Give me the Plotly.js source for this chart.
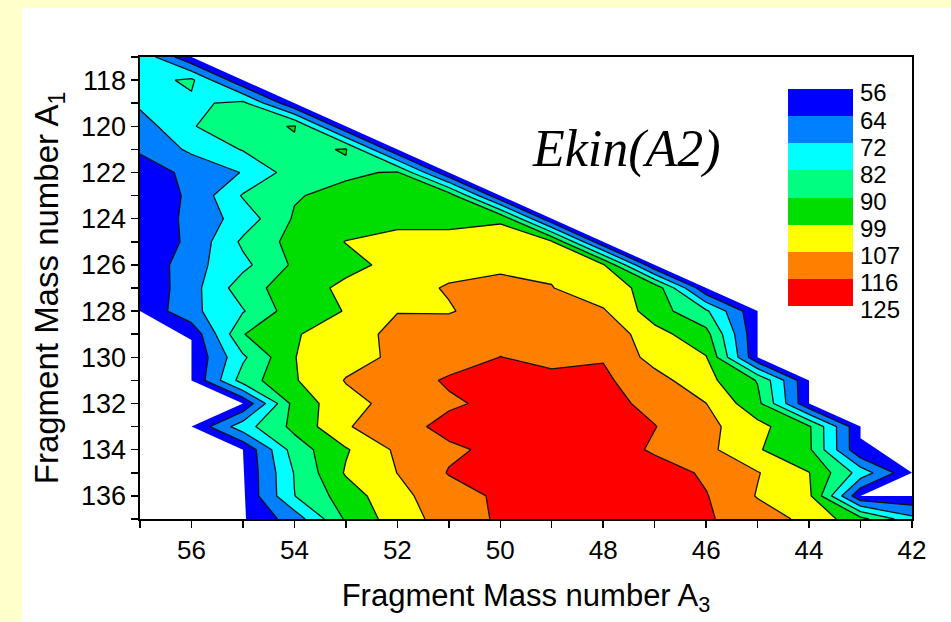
<!DOCTYPE html>
<html>
<head>
<meta charset="utf-8">
<script src="https://cdn.plot.ly/plotly-3.0.1.min.js"></script>
<style>
  html, body { margin: 0; padding: 0; background: #FFFFCC; width: 951px; height: 622px; overflow: hidden; }
  #plot { position: absolute; left: 22px; top: 8px; width: 929px; height: 614px; background: #ffffff; }
</style>
</head>
<body>
<div id="plot"></div>
<script>
// ---- data ----
// fragment mass A3 (columns, left to right as drawn) and A1 (rows, top to bottom)
const a3Values = [57,56,55,54,53,52,51,50,49,48,47,46,45,44,43,42];
const a1Values = [117,118,119,120,121,122,123,124,125,126,127,128,129,130,131,132,133,134,135,136,137];

// Ekin(A2) in MeV at each (A1, A3); cells outside the measured domain carry 56.5 and are masked
const ekinRows = [
/*117*/ [80,57,56.5,56.5,56.5,56.5,56.5,56.5,56.5,56.5,56.5,56.5,56.5,56.5,56.5,56.5],
/*118*/ [78,83.5,57,56.5,56.5,56.5,56.5,56.5,56.5,56.5,56.5,56.5,56.5,56.5,56.5,56.5],
/*119*/ [74,80,84,57,56.5,56.5,56.5,56.5,56.5,56.5,56.5,56.5,56.5,56.5,56.5,56.5],
/*120*/ [68,81.5,86,90.8,57,56.5,56.5,56.5,56.5,56.5,56.5,56.5,56.5,56.5,56.5,56.5],
/*121*/ [65,74,82.5,88,90.6,57,56.5,56.5,56.5,56.5,56.5,56.5,56.5,56.5,56.5,56.5],
/*122*/ [60,66,72.5,86,88.5,91,57,56.5,56.5,56.5,56.5,56.5,56.5,56.5,56.5,56.5],
/*123*/ [58,65.5,82.7,89.3,93,95,95,57,56.5,56.5,56.5,56.5,56.5,56.5,56.5,56.5],
/*124*/ [57,66.4,76.3,91,95,97,97,98,57,56.5,56.5,56.5,56.5,56.5,56.5,56.5],
/*125*/ [57,66,83.5,93,99.2,101,101,102,100,57,56.5,56.5,56.5,56.5,56.5,56.5],
/*126*/ [57,69.2,79.4,91.5,96.7,101,105,105.5,105.5,100,57,56.5,56.5,56.5,56.5,56.5],
/*127*/ [57,69,86.3,95,100.6,104.7,107.6,109.5,107.3,101.7,96.5,57,56.5,56.5,56.5,56.5],
/*128*/ [57,70,81.3,95,99.3,106.8,106.5,110.5,112,108,94.2,83.3,57,56.5,56.5,56.5],
/*129*/ [56.5,58,89.7,98.1,104,109,111,113.5,114.5,113.5,101.9,93,57,56.5,56.5,56.5],
/*130*/ [56.5,57,80.3,98.8,104.1,108.6,112.3,116.1,114.5,115.5,104,99.4,57,56.5,56.5,56.5],
/*131*/ [56.5,57,85.7,98.2,107.5,112.1,117,119,117.5,117.5,110.5,101.4,89.5,57,56.5,56.5],
/*132*/ [56.5,56.5,57,93.5,104.3,110.1,114.8,118,120,119,113.5,107.1,92.6,57,56.5,56.5],
/*133*/ [56.5,57,77.8,92.4,106.3,112.7,118.5,120,121,120.5,116.3,109.6,101.4,91.2,57,56.5],
/*134*/ [56.5,56.5,57,85.8,98.1,108.6,114.5,118,121.5,122,114.5,109.5,99.7,91.6,57,56.5],
/*135*/ [56.5,56.5,57,82.4,99.8,107.1,116.5,120,122.5,123,121,114.5,107.5,99.2,78,57],
/*136*/ [56.5,56.5,57,81.8,94.4,104.8,112.1,117.5,122,123,121.5,116.5,106.5,100.7,57,57],
/*137*/ [56.5,56.5,57,67.4,91.3,103,110.9,117.3,121,122,121,117,111.4,104.9,93,75]
];

// contour levels and their band colours (legend tick labels)
const levelValues = [56,64,72,82,90,99,107,116,125];
const levelLabels = ['56','64','72','82','90','99','107','116','125'];
const bandColors  = ['#0000FF','#0080FF','#00FFFF','#00FF80','#00DD00','#FFFF00','#FF8000','#FF0000'];

// boundary of the measured (A3, A1) domain: outside of it the map is blank
const blankUpperA3 = [56.5, 56, 45, 45, 44, 44, 43, 43, 42, 41.5, 41.5];
const blankUpperA1 = [116.5, 117, 128, 130, 131, 132, 133, 133.5, 135, 135, 116.5];
const blankNotchA3 = [42, 43, 41.5, 41.5];
const blankNotchA1 = [135, 136, 136, 135];
const blankLowerA3 = [57.5, 57, 56, 56, 55, 56, 55, 54.93, 54.93, 57.5];
const blankLowerA1 = [128, 128, 129.25, 131, 132, 133, 134, 137, 137.5, 137.5];

// ---- build traces ----
// map an energy onto the (non-uniform) level scale: level k -> k, linear in between
function levelIndex(v) {
  const n = levelValues.length;
  if (v <= levelValues[0]) return (v - levelValues[0]) / (levelValues[1] - levelValues[0]);
  for (let k = 0; k < n - 1; k++) {
    if (v <= levelValues[k + 1]) return k + (v - levelValues[k]) / (levelValues[k + 1] - levelValues[k]);
  }
  return (n - 1) + (v - levelValues[n - 1]) / (levelValues[n - 1] - levelValues[n - 2]);
}

const xAsc = a3Values.slice().reverse();
const zIdx = ekinRows.map(r => r.slice().reverse().map(levelIndex));

const nLev = levelValues.length; // 9 contour lines -> 8 bands
const contourScale = [[0, bandColors[0]]];
bandColors.forEach((c, k) => contourScale.push([(k + 1) / nLev, c]));
contourScale.push([1, bandColors[bandColors.length - 1]]);

const contour = {
  type: 'contour',
  x: xAsc, y: a1Values, z: zIdx,
  autocontour: false,
  contours: { start: 0, end: nLev - 1, size: 1, coloring: 'fill', showlines: true },
  line: { color: '#111111', width: 1.3, smoothing: 0 },
  colorscale: contourScale,
  showscale: false,
  hoverinfo: 'skip'
};

const blank = {
  type: 'scatter', mode: 'lines',
  x: blankUpperA3.concat([null], blankNotchA3, [null], blankLowerA3),
  y: blankUpperA1.concat([null], blankNotchA1, [null], blankLowerA1),
  fill: 'toself', fillcolor: '#ffffff',
  line: { width: 0, color: 'rgba(0,0,0,0)' },
  connectgaps: false, hoverinfo: 'skip', showlegend: false
};

// legend: one coloured block per band
const legendZ = bandColors.map((c, k) => [k]);
const legendY = bandColors.map((c, k) => k + 0.5);
const legendScale = bandColors.map((c, k) => [k / (bandColors.length - 1), c]);
const legend = {
  type: 'heatmap', x: [0], y: legendY, z: legendZ,
  xaxis: 'x2', yaxis: 'y2',
  colorscale: legendScale, zmin: 0, zmax: bandColors.length - 1,
  showscale: false, hoverinfo: 'skip'
};

const labelNudge = 0.15; // legend labels sit a little below their band edges
const fontSans = 'Liberation Sans, Arial, sans-serif';
const layout = {
  width: 929, height: 614,
  margin: { l: 118, r: 39, t: 49, b: 103 },
  paper_bgcolor: '#ffffff', plot_bgcolor: '#ffffff',
  showlegend: false,
  font: { family: fontSans, color: '#000000', size: 26 },
  xaxis: {
    range: [57, 42], dtick: 2, tick0: 42,
    ticks: 'outside', ticklen: 7, tickwidth: 1.5, tickcolor: '#000',
    minor: { dtick: 1, ticks: 'outside', ticklen: 7, tickwidth: 1.5, tickcolor: '#000' },
    showline: true, mirror: true, linecolor: '#000', linewidth: 1.6,
    showgrid: false, zeroline: false,
    tickfont: { family: fontSans, size: 26 },
    title: { text: 'Fragment Mass number A<sub>3</sub>', font: { family: fontSans, size: 31 }, standoff: 20 }
  },
  yaxis: {
    range: [137, 117], dtick: 2, tick0: 118,
    ticks: 'outside', ticklen: 7, tickwidth: 1.5, tickcolor: '#000',
    minor: { dtick: 1, ticks: 'outside', ticklen: 7, tickwidth: 1.5, tickcolor: '#000' },
    showline: true, mirror: true, linecolor: '#000', linewidth: 1.6,
    showgrid: false, zeroline: false,
    tickfont: { family: fontSans, size: 27 },
    title: { text: 'Fragment Mass number A<sub>1</sub>', font: { family: fontSans, size: 33 }, standoff: 12 }
  },
  xaxis2: { domain: [0.8394, 0.9236], range: [-0.5, 0.5], anchor: 'y2', visible: false, fixedrange: true },
  yaxis2: {
    domain: [0.4494, 0.9307], range: [8.2, 0], anchor: 'x2', side: 'right',
    tickmode: 'array', tickvals: levelValues.map((v, k) => k + labelNudge), ticktext: levelLabels,
    ticks: '', showline: false, showgrid: false, zeroline: false,
    ticklabelstandoff: 6,
    tickfont: { family: fontSans, size: 24 }
  },
  annotations: [{
    text: '<i>Ekin(A2)</i>', xref: 'paper', yref: 'paper', x: 0.6308, y: 0.7998,
    xanchor: 'center', yanchor: 'middle', showarrow: false,
    font: { family: 'Liberation Serif, Times New Roman, serif', size: 52, color: '#000' }
  }]
};

Plotly.newPlot('plot', [contour, blank, legend], layout, { staticPlot: true, displayModeBar: false });
</script>
</body>
</html>
